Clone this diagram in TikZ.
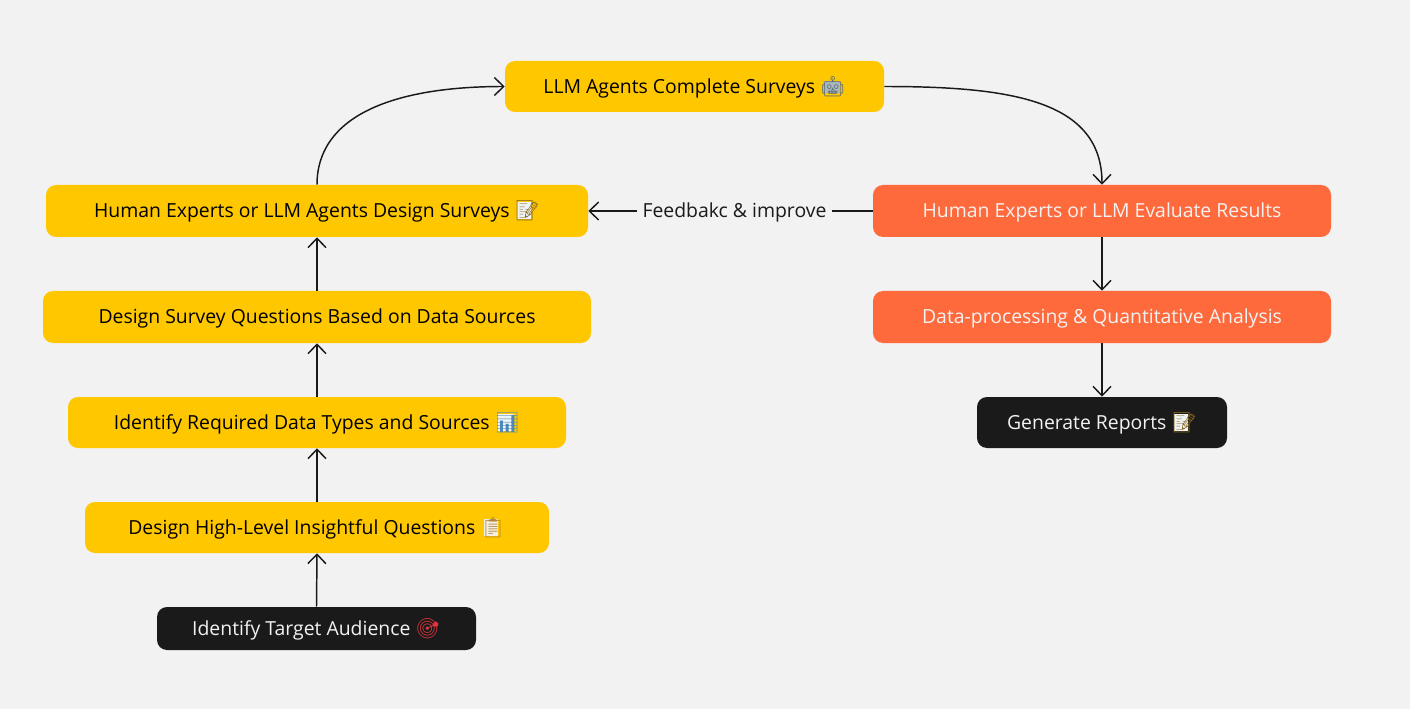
\documentclass[tikz,border=0pt]{standalone}
\usepackage{fontspec}
\usetikzlibrary{arrows.meta}
\setmainfont{Open Sans}
\newfontfamily\emojifont[Scale=1.03]{Noto Emoji}
\definecolor{bgc}{HTML}{F2F2F2}
\definecolor{yel}{HTML}{FFC700}
\definecolor{org}{HTML}{FF6A3D}
\definecolor{blk}{HTML}{1A1A1A}
% #1 backing colour, #2 glyph colour, #3 glyph, #4 left offset, #5 raise, #6 width, #7 height
\newcommand{\emo}[7]{\makebox[0pt][l]{\hspace{#4}\raisebox{#5}{\color[HTML]{#1}\rule{#6}{#7}}}{\emojifont\color[HTML]{#2}#3}}
\tikzset{
  x=0.75pt,y=-0.75pt,
  boxbase/.style={rounded corners=7.5pt,inner sep=0pt,align=center,text height=14pt,text depth=3.5pt,font=\fontsize{14.55}{18}\selectfont},
  yellowbox/.style={boxbase,fill=yel,text=black},
  orangebox/.style={boxbase,fill=org,text=white!95!black},
  darkbox/.style={boxbase,fill=blk,text=white!95!black},
  conn/.style={line width=1.1pt,draw=blk,-{Straight Barb[length=7pt,width=13.5pt,line width=1.1pt]}},
  plainconn/.style={line width=1.1pt,draw=blk},
  lbl/.style={inner sep=0pt,text height=14pt,text depth=3.5pt,font=\fontsize{14.55}{18}\selectfont,text=blk}
}
\begin{document}
\begin{tikzpicture}
\useasboundingbox (0,0) rectangle (1410,709);
\fill[bgc] (0,0) rectangle (1410,709);
\node[yellowbox,minimum width=284.25pt,minimum height=38.25pt] (llm) at (694.5,86.5) {LLM Agents Complete Surveys \emo{A9B8BF}{5F6F78}{🤖}{2pt}{0pt}{13pt}{9pt}};
\node[yellowbox,minimum width=406.5pt,minimum height=39pt] (design) at (317,211) {Human Experts or LLM Agents Design Surveys \emo{EEF3F6}{8A6A20}{📝}{1.5pt}{-1pt}{11pt}{13pt}};
\node[yellowbox,minimum width=411pt,minimum height=39pt] (questions) at (317,317) {Design Survey Questions Based on Data Sources};
\node[yellowbox,minimum width=373.5pt,minimum height=38.25pt] (types) at (317,422.5) {Identify Required Data Types and Sources \emo{EEF3F6}{4A88B8}{📊}{1.5pt}{-1pt}{13pt}{13pt}};
\node[yellowbox,minimum width=348pt,minimum height=38.25pt] (insight) at (317,527.5) {Design High-Level Insightful Questions \emo{F2EFE4}{B5853A}{📋}{3pt}{-1pt}{10pt}{13pt}};
\node[darkbox,minimum width=239.25pt,minimum height=32.25pt] (audience) at (316.5,628.5) {Identify Target Audience \emo{1A1A1A}{E0363F}{🎯}{0pt}{0pt}{0pt}{0pt}};
\node[orangebox,minimum width=343.5pt,minimum height=39pt] (eval) at (1102,211) {Human Experts or LLM Evaluate Results};
\node[orangebox,minimum width=343.5pt,minimum height=39pt] (proc) at (1102,317) {Data-processing \& Quantitative Analysis};
\node[darkbox,minimum width=187.5pt,minimum height=38.25pt] (report) at (1102,422.5) {Generate Reports \emo{EEF3F6}{8A6A20}{📝}{1.5pt}{-1pt}{11pt}{13pt}};
\node[lbl] (fb) at (734.5,211) {Feedbakc \& improve};
\draw[conn] (audience.north) -- (insight.south);
\draw[conn] (insight.north) -- (types.south);
\draw[conn] (types.north) -- (questions.south);
\draw[conn] (questions.north) -- (design.south);
\draw[conn] (design.north) .. controls (317,115) and (395,86.5) .. (llm.west);
\draw[conn] (llm.east) .. controls (1010,86.5) and (1102,100) .. (eval.north);
\draw[conn] (eval.south) -- (proc.north);
\draw[conn] (proc.south) -- (report.north);
\draw[plainconn] (eval.west) -- ([xshift=3.75pt]fb.east);
\draw[conn] ([xshift=-3.75pt]fb.west) -- (design.east);
\end{tikzpicture}
\end{document}
